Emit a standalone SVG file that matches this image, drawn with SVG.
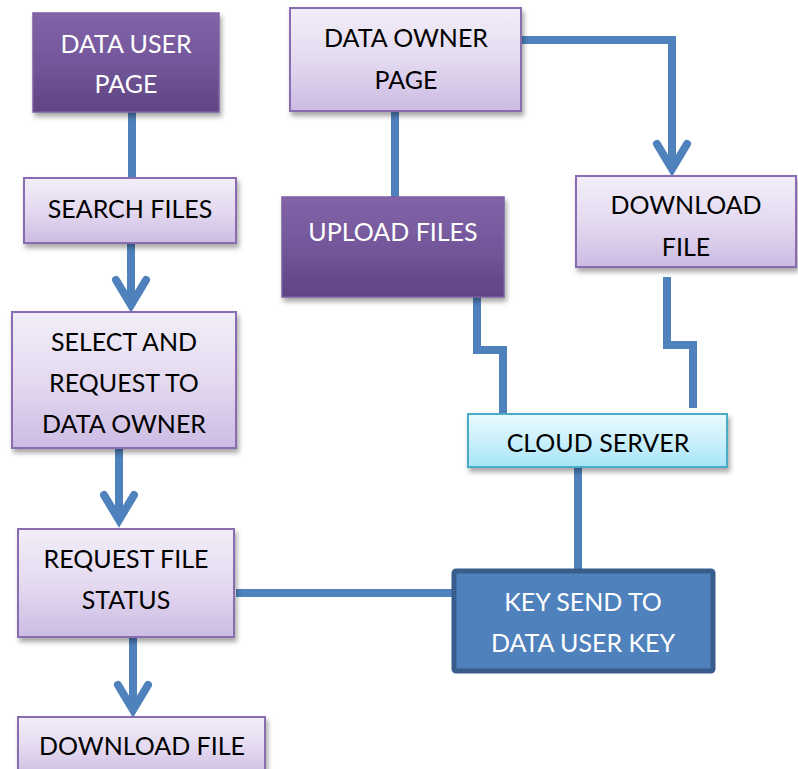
<svg xmlns="http://www.w3.org/2000/svg" width="798" height="769" viewBox="0 0 798 769">
  <defs>
    <linearGradient id="lightFill" x1="0" y1="0" x2="0" y2="1">
      <stop offset="0" stop-color="#F2EEF8"/>
      <stop offset="0.5" stop-color="#E4DAF0"/>
      <stop offset="1" stop-color="#CCBBE3"/>
    </linearGradient>
    <linearGradient id="darkFill" x1="0" y1="0" x2="0" y2="1">
      <stop offset="0" stop-color="#8264A8"/>
      <stop offset="0.5" stop-color="#73579A"/>
      <stop offset="1" stop-color="#5E4482"/>
    </linearGradient>
    <linearGradient id="cloudFill" x1="0" y1="0" x2="0" y2="1">
      <stop offset="0" stop-color="#E8FAFE"/>
      <stop offset="0.5" stop-color="#CBF0FB"/>
      <stop offset="1" stop-color="#A6E5F8"/>
    </linearGradient>
    <filter id="shadow" x="-10%" y="-10%" width="125%" height="135%">
      <feDropShadow dx="2" dy="4" stdDeviation="2.5" flood-color="#000" flood-opacity="0.35"/>
    </filter>
  </defs>
  <style>
    .light { fill: url(#lightFill); stroke: #8A6CB0; stroke-width: 2; filter: url(#shadow); }
    .dark { fill: url(#darkFill); stroke: #7A60A0; stroke-width: 1.5; filter: url(#shadow); }
    .cloud { fill: url(#cloudFill); stroke: #4BACC6; stroke-width: 2; filter: url(#shadow); }
    .key { fill: #4F81BD; stroke: #385D8A; stroke-width: 5; }
    .lbl { font-family: Lato, "Open Sans", "Liberation Sans", sans-serif; font-size: 25px; text-anchor: middle; fill: #000; }
    .wlbl { fill: #FFFFFF; }
    .wire { fill: none; stroke: #4F81BD; stroke-width: 8; }
    .head { fill: none; stroke: #4F81BD; stroke-width: 8; stroke-linecap: round; stroke-linejoin: miter; }
  </style>

  <!-- connectors -->
  <g id="connectors">
    <line class="wire" x1="132" y1="112" x2="132" y2="178"/>
    <line class="wire" x1="131" y1="243" x2="131" y2="303"/>
    <path class="head" d="M116 280 L131 305 L146 280"/>
    <line class="wire" x1="119" y1="448" x2="119" y2="518"/>
    <path class="head" d="M104 495 L119 520 L134 495"/>
    <line class="wire" x1="133" y1="637" x2="133" y2="708"/>
    <path class="head" d="M118 685 L133 710 L148 685"/>
    <line class="wire" x1="395" y1="111" x2="395" y2="197"/>
    <polyline class="wire" points="521,40 672,40 672,166"/>
    <path class="head" d="M657 144 L672 169 L687 144"/>
    <polyline class="wire" points="477,297 477,350 503,350 503,414"/>
    <polyline class="wire" points="667,277 667,345 693,345 693,408"/>
    <line class="wire" x1="578" y1="467" x2="578" y2="569"/>
    <line class="wire" x1="236" y1="593" x2="452" y2="593"/>
  </g>

  <g id="data-user-page">
    <rect class="dark" x="33" y="13" width="186" height="99"/>
    <text class="lbl wlbl" x="126" y="53">DATA USER</text>
    <text class="lbl wlbl" x="126" y="93">PAGE</text>
  </g>

  <g id="data-owner-page">
    <rect class="light" x="290" y="8" width="231" height="103"/>
    <text class="lbl" x="406" y="47">DATA OWNER</text>
    <text class="lbl" x="406" y="89">PAGE</text>
  </g>

  <g id="search-files">
    <rect class="light" x="24" y="178" width="212" height="65"/>
    <text class="lbl" x="130" y="218">SEARCH FILES</text>
  </g>

  <g id="upload-files">
    <rect class="dark" x="282" y="197" width="222" height="100"/>
    <text class="lbl wlbl" x="393" y="241">UPLOAD FILES</text>
  </g>

  <g id="download-file-owner">
    <rect class="light" x="576" y="176" width="220" height="91"/>
    <text class="lbl" x="686" y="214">DOWNLOAD</text>
    <text class="lbl" x="686" y="256">FILE</text>
  </g>

  <g id="select-and-request">
    <rect class="light" x="12" y="312" width="224" height="136"/>
    <text class="lbl" x="124" y="351">SELECT AND</text>
    <text class="lbl" x="124" y="392">REQUEST TO</text>
    <text class="lbl" x="124" y="433">DATA OWNER</text>
  </g>

  <g id="cloud-server">
    <rect class="cloud" x="468" y="414" width="259" height="53"/>
    <text class="lbl" x="598" y="452">CLOUD SERVER</text>
  </g>

  <g id="request-file-status">
    <rect class="light" x="18" y="529" width="216" height="108"/>
    <text class="lbl" x="126" y="568">REQUEST FILE</text>
    <text class="lbl" x="126" y="609">STATUS</text>
  </g>

  <g id="key-send">
    <rect class="key" x="454" y="571" width="259" height="100" rx="2"/>
    <text class="lbl wlbl" x="583" y="611">KEY SEND TO</text>
    <text class="lbl wlbl" x="583" y="652">DATA USER KEY</text>
  </g>

  <g id="download-file-user">
    <rect class="light" x="18" y="717" width="247" height="60"/>
    <text class="lbl" x="142" y="755">DOWNLOAD FILE</text>
  </g>
</svg>
